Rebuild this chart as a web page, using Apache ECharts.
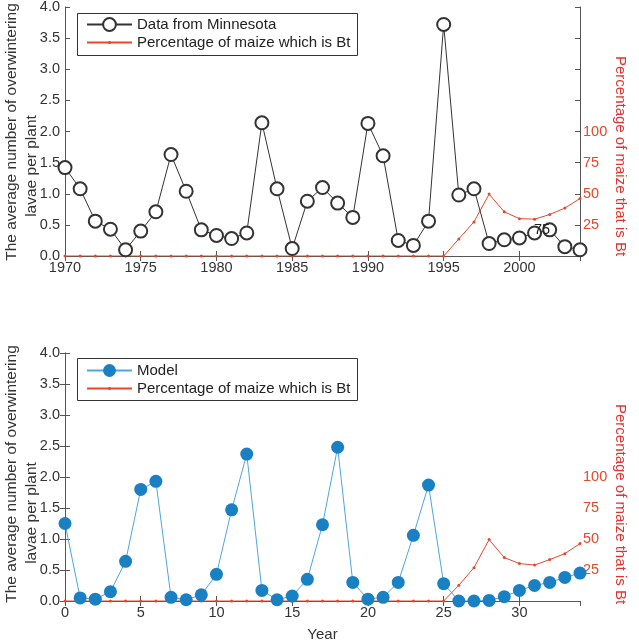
<!DOCTYPE html>
<html><head><meta charset="utf-8">
<script src="https://cdn.jsdelivr.net/npm/echarts@6/dist/echarts.min.js"></script>
<style>html,body{margin:0;padding:0;background:#fff}#c{width:639px;height:640px}</style>
</head><body><div id="c"></div>
<script>
const mnYears = [1970,1971,1972,1973,1974,1975,1976,1977,1978,1979,1980,1981,1982,1983,1984,1985,1986,1987,1988,1989,1990,1991,1992,1993,1994,1995,1996,1997,1998,1999,2000,2001,2002,2003,2004];
const mnLarvae = [1.42,1.08,0.56,0.43,0.10,0.40,0.71,1.63,1.04,0.42,0.33,0.28,0.37,2.14,1.08,0.12,0.88,1.10,0.85,0.62,2.13,1.61,0.25,0.17,0.56,3.72,0.98,1.08,0.20,0.26,0.29,0.37,0.42,0.15,0.10];
const btTop = [0,0,0,0,0,0,0,0,0,0,0,0,0,0,0,0,0,0,0,0,0,0,0,0,0,0,13.7,27.4,49.7,35.5,30.0,29.6,33.3,38.5,46.2];
const modelYears = [0,1,2,3,4,5,6,7,8,9,10,11,12,13,14,15,16,17,18,19,20,21,22,23,24,25,26,27,28,29,30,31,32,33,34];
const modelLarvae = [1.25,0.05,0.03,0.15,0.64,1.80,1.93,0.06,0.02,0.10,0.43,1.47,2.37,0.17,0.02,0.08,0.35,1.23,2.48,0.30,0.03,0.06,0.30,1.06,1.87,0.28,0.00,0.00,0.01,0.07,0.17,0.25,0.30,0.38,0.45];
const btModel = [0,0,0,0,0,0,0,0,0,0,0,0,0,0,0,0,0,0,0,0,0,0,0,0,0,0,12.7,26.9,49.5,35.0,30.2,29.0,33.4,38.2,46.3];
const rightLabels = ['25','50','75','100'];
const seriesNames = ['Data from Minnesota','Percentage of maize which is Bt','Model'];
const leftTitleLines = ['The average number of overwintering', 'lavae per plant'];
const rightTitle = 'Percentage of maize that is Bt';
const xTitle = 'Year';

const pairs = (xs, ys) => xs.map((x, i) => [x, ys[i]]);
const FONT = 'Liberation Sans, Arial, sans-serif';
const AX = '#555';
const RED = '#e8472b';
const BLUE = '#1a80c4';

function xAxes(gi, min, max, showName) {
  return [{
    type: 'value', gridIndex: gi, min: min, max: max, interval: 5, position: 'bottom',
    axisLine: { lineStyle: { color: AX } },
    axisTick: { inside: true, length: 5, lineStyle: { color: AX } },
    splitLine: { show: false },
    axisLabel: { color: '#333', fontSize: 14.5, fontFamily: FONT, margin: 4, showMaxLabel: false, formatter: v => String(v) },
    name: showName ? xTitle : '', nameLocation: 'middle', nameGap: 26,
    nameTextStyle: { color: '#333', fontSize: 15, fontFamily: FONT }
  }, {
    type: 'value', gridIndex: gi, min: min, max: max, interval: 5, position: 'top',
    axisLine: { lineStyle: { color: AX } },
    axisTick: { inside: true, length: 5, lineStyle: { color: AX } },
    splitLine: { show: false }, axisLabel: { show: false }
  }];
}
function yAxes(gi) {
  return [{
    type: 'value', gridIndex: gi, min: 0, max: 4, interval: 0.5, position: 'left',
    axisLine: { show: true, lineStyle: { color: AX } },
    axisTick: { show: true, inside: true, length: 5, lineStyle: { color: AX } },
    splitLine: { show: false },
    axisLabel: { color: '#333', fontSize: 14.5, fontFamily: FONT, margin: 5, formatter: v => v.toFixed(1) }
  }, {
    type: 'value', gridIndex: gi, min: 0, max: 200, interval: 25, position: 'right',
    axisLine: { show: true, lineStyle: { color: AX } },
    axisTick: { show: true, inside: true, length: 5, lineStyle: { color: AX } },
    splitLine: { show: false },
    axisLabel: { color: RED, fontSize: 14.5, fontFamily: FONT, margin: 3,
      formatter: v => rightLabels.indexOf(String(v)) >= 0 ? String(v) : '' }
  }];
}
function legendRow(name, top, itemHeight) {
  return {
    orient: 'vertical', left: 86, top: top, padding: 0,
    itemWidth: 45, itemHeight: itemHeight,
    textStyle: { color: '#222', fontSize: 15, fontFamily: FONT },
    data: [name]
  };
}
function vText(str, x, cy, color, size, rot) {
  return {
    type: 'text', x: x, y: cy, rotation: rot,
    style: { text: str, fill: color, fontSize: size, fontFamily: FONT, align: 'center', verticalAlign: 'middle' }
  };
}

const chart = echarts.init(document.getElementById('c'), null, { renderer: 'canvas' });
chart.setOption({
  backgroundColor: '#fff',
  animation: false,
  grid: [
    { left: 65, top: 7, width: 515, height: 249, containLabel: false, outerBoundsMode: 'none' },
    { left: 65, top: 353, width: 515, height: 248, containLabel: false, outerBoundsMode: 'none' }
  ],
  xAxis: [...xAxes(0, 1970, 2004, false), ...xAxes(1, 0, 34, true)],
  yAxis: [...yAxes(0), ...yAxes(1)],
  legend: [
    legendRow(seriesNames[0], 17, 16),
    legendRow(seriesNames[1], 35, 4),
    legendRow(seriesNames[2], 363, 16),
    legendRow(seriesNames[1], 381, 4)
  ],
  series: [{
    name: seriesNames[0], type: 'line', xAxisIndex: 0, yAxisIndex: 0,
    data: pairs(mnYears, mnLarvae), symbol: 'emptyCircle', symbolSize: 13, z: 3,
    lineStyle: { color: '#333', width: 1 }, itemStyle: { color: '#333', borderColor: '#3a3a3a', borderWidth: 0.9 }
  }, {
    name: seriesNames[1], type: 'line', xAxisIndex: 0, yAxisIndex: 1,
    data: pairs(mnYears, btTop), symbol: 'circle', symbolSize: 3, z: 2,
    lineStyle: { color: RED, width: 1 }, itemStyle: { color: RED }
  }, {
    name: seriesNames[2], type: 'line', xAxisIndex: 2, yAxisIndex: 2,
    data: pairs(modelYears, modelLarvae), symbol: 'circle', symbolSize: 13, z: 3,
    lineStyle: { color: '#4da6dc', width: 1 }, itemStyle: { color: BLUE }
  }, {
    name: seriesNames[1], type: 'line', xAxisIndex: 2, yAxisIndex: 3,
    data: pairs(modelYears, btModel), symbol: 'circle', symbolSize: 3, z: 2,
    lineStyle: { color: RED, width: 1 }, itemStyle: { color: RED }
  }],
  graphic: [{
    type: 'rect', shape: { x: 77.5, y: 13.5, width: 280, height: 42 },
    style: { fill: 'none', stroke: '#333', lineWidth: 1 }, z: 1
  }, {
    type: 'rect', shape: { x: 77.5, y: 358.5, width: 280, height: 42 },
    style: { fill: 'none', stroke: '#333', lineWidth: 1 }, z: 1
  },
  vText(leftTitleLines[0], 12, 132, '#333', 15.5, Math.PI / 2),
  vText(leftTitleLines[1], 32, 166, '#333', 15.5, Math.PI / 2),
  vText(leftTitleLines[0], 12, 474, '#333', 15.5, Math.PI / 2),
  vText(leftTitleLines[1], 32, 513, '#333', 15.5, Math.PI / 2),
  vText(rightTitle, 620, 156, '#e5322d', 15, -Math.PI / 2),
  vText(rightTitle, 620, 504, '#e5322d', 15, -Math.PI / 2),
  {
    type: 'text', x: 542, y: 230, z: 20,
    style: { text: '75', fill: '#222', fontSize: 14.5, fontFamily: FONT, align: 'center', verticalAlign: 'middle' }
  }]
});
</script></body></html>
